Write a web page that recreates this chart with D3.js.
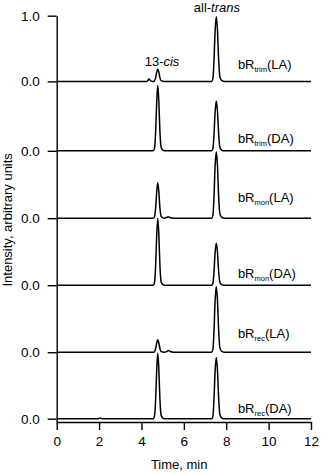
<!DOCTYPE html>
<html>
<head>
<meta charset="utf-8">
<script src="https://cdn.jsdelivr.net/npm/d3@7"></script>
<style>
  body { margin: 0; background: #fff; }
  svg { display: block; font-family: "Liberation Sans", Arial, Helvetica, sans-serif; }
  .axis path, .axis line { stroke: #000; stroke-width: 1.4; }
  .axis text { font-size: 13.5px; fill: #000; }
</style>
</head>
<body>
<div id="chart"></div>
<script>
'use strict';

// chromatogram traces, [time (min), intensity], top to bottom
const trimLA = [[0, 0], [4.26, 0], [4.31, 0.018], [4.36, 0.035], [4.41, 0.018], [4.47, 0.004], [4.55, 0],
    [4.61, 0.006], [4.67, 0.057], [4.72, 0.14], [4.77, 0.19], [4.82, 0.14], [4.87, 0.057], [4.93, 0.01], [5.01, 0.002], [5.09, 0],
    [7.31, 0], [7.37, 0.04], [7.42, 0.3], [7.475, 0.77], [7.53, 0.985], [7.585, 0.79], [7.64, 0.345], [7.7, 0.07], [7.78, 0.015], [7.89, 0],
    [12, 0]];
const trimDA = [[0, 0], [4.55, 0],
    [4.61, 0.03], [4.67, 0.3], [4.72, 0.75], [4.77, 1.0], [4.82, 0.75], [4.87, 0.3], [4.93, 0.05], [5.01, 0.01], [5.09, 0],
    [7.31, 0], [7.37, 0.03], [7.42, 0.23], [7.475, 0.59], [7.53, 0.76], [7.585, 0.61], [7.64, 0.27], [7.7, 0.053], [7.78, 0.011], [7.89, 0],
    [12, 0]];
const monLA = [[0, 0], [4.55, 0],
    [4.61, 0.016], [4.67, 0.16], [4.72, 0.4], [4.77, 0.54], [4.82, 0.4], [4.87, 0.16], [4.93, 0.027], [5.01, 0.005], [5.09, 0],
    [5.18, 0.01], [5.26, 0.02], [5.34, 0.01], [5.44, 0.002], [5.55, 0],
    [7.31, 0], [7.37, 0.04], [7.42, 0.3], [7.475, 0.79], [7.53, 1.01], [7.585, 0.81], [7.64, 0.35], [7.7, 0.07], [7.78, 0.015], [7.89, 0],
    [12, 0]];
const monDA = [[0, 0], [4.55, 0],
    [4.61, 0.03], [4.67, 0.31], [4.72, 0.77], [4.77, 1.02], [4.82, 0.77], [4.87, 0.31], [4.93, 0.05], [5.01, 0.01], [5.09, 0],
    [7.31, 0], [7.37, 0.026], [7.42, 0.19], [7.475, 0.5], [7.53, 0.64], [7.585, 0.51], [7.64, 0.22], [7.7, 0.045], [7.78, 0.01], [7.89, 0],
    [12, 0]];
const recLA = [[0, 0], [4.55, 0],
    [4.61, 0.006], [4.67, 0.057], [4.72, 0.14], [4.77, 0.19], [4.82, 0.14], [4.87, 0.057], [4.93, 0.01], [5.01, 0.002], [5.09, 0],
    [5.2, 0.012], [5.28, 0.025], [5.36, 0.012], [5.46, 0.003], [5.58, 0],
    [7.31, 0], [7.37, 0.04], [7.42, 0.3], [7.475, 0.78], [7.53, 1.0], [7.585, 0.8], [7.64, 0.35], [7.7, 0.07], [7.78, 0.015], [7.89, 0],
    [12, 0]];
const recDA = [[0, 0], [1.95, 0], [2.05, 0.01], [2.15, 0], [4.55, 0],
    [4.61, 0.03], [4.67, 0.3], [4.72, 0.75], [4.77, 1.0], [4.82, 0.75], [4.87, 0.3], [4.93, 0.05], [5.01, 0.01], [5.09, 0],
    [7.31, 0], [7.37, 0.037], [7.42, 0.28], [7.475, 0.725], [7.53, 0.93], [7.585, 0.745], [7.64, 0.325], [7.7, 0.065], [7.78, 0.014], [7.89, 0],
    [12, 0]];

const traces = [trimLA, trimDA, monLA, monDA, recLA, recDA];
const sampleNames = ['trim', 'trim', 'mon', 'mon', 'rec', 'rec'];
const conditions = ['LA', 'DA', 'LA', 'DA', 'LA', 'DA'];
const xTicks = [0, 2, 4, 6, 8, 10, 12];

// vertical offset of each trace baseline, in intensity units
const offsets = [5.135, 4.078, 3.053, 2.032, 1.012, 0];
// how far each label sits above its baseline, in intensity units
const labelLift = [0.195, 0.12, 0.25, 0.11, 0.22, 0.09];

const margin = {top: 15.7, right: 17, bottom: 52, left: 56.7},
    width = 328 - margin.left - margin.right,
    height = 474 - margin.top - margin.bottom;

const svg = d3.select('#chart')
  .append('svg')
    .attr('width', 328)
    .attr('height', 474)
  .append('g')
    .attr('transform', `translate(${margin.left},${margin.top})`);

const x = d3.scaleLinear()
  .domain([0, 12])
  .range([0, width]);

const y = d3.scaleLinear()
  .domain([-0.05, offsets[0] + 1])
  .range([height, 0]);

// X axis
svg.append('g')
  .attr('class', 'axis')
  .attr('transform', `translate(0,${height})`)
  .call(d3.axisBottom(x).tickValues(xTicks).tickFormat(d3.format('d')).tickSize(8).tickSizeOuter(0).tickPadding(6));

// Y axis: one 0.0 per baseline plus 1.0 on top trace
const yTicks = offsets.concat([offsets[0] + 1]);
svg.append('g')
  .attr('class', 'axis')
  .call(d3.axisLeft(y).tickValues(yTicks)
    .tickFormat(d => d === offsets[0] + 1 ? '1.0' : '0.0')
    .tickSize(9).tickSizeOuter(0).tickPadding(8));

// traces
const line = d3.line()
  .x(d => x(d[0]))
  .curve(d3.curveMonotoneX);

traces.forEach((data, i) => {
    svg.append('path')
      .datum(data)
      .attr('fill', 'none')
      .attr('stroke', '#000')
      .attr('stroke-width', 1.5)
      .attr('stroke-linejoin', 'round')
      .attr('d', line.y(d => y(d[1] + offsets[i])));

    const label = svg.append('text')
      .attr('x', x(8.55))
      .attr('y', y(offsets[i] + labelLift[i]))
      .attr('font-size', 13);
    label.append('tspan').text('bR');
    label.append('tspan').attr('font-size', 7.5).attr('dy', 3).text(sampleNames[i]);
    label.append('tspan').attr('dy', -3).text(`(${conditions[i]})`);
});

// peak annotations
const trans = svg.append('text')
  .attr('x', x(7.56))
  .attr('y', y(offsets[0] + 1.06))
  .attr('text-anchor', 'middle')
  .attr('font-size', 13);
trans.append('tspan').text('all-');
trans.append('tspan').attr('font-style', 'italic').text('trans');

const cis = svg.append('text')
  .attr('x', x(4.97))
  .attr('y', y(offsets[0] + 0.24))
  .attr('text-anchor', 'middle')
  .attr('font-size', 13);
cis.append('tspan').text('13-');
cis.append('tspan').attr('font-style', 'italic').text('cis');

// axis titles
svg.append('text')
  .attr('x', x(5.78))
  .attr('y', height + 47.5)
  .attr('text-anchor', 'middle')
  .attr('font-size', 13)
  .text('Time, min');

svg.append('text')
  .attr('transform', `translate(${12 - margin.left},${height / 2 + 1}) rotate(-90)`)
  .attr('text-anchor', 'middle')
  .attr('font-size', 13)
  .text('Intensity, arbitrary units');
</script>
</body>
</html>
